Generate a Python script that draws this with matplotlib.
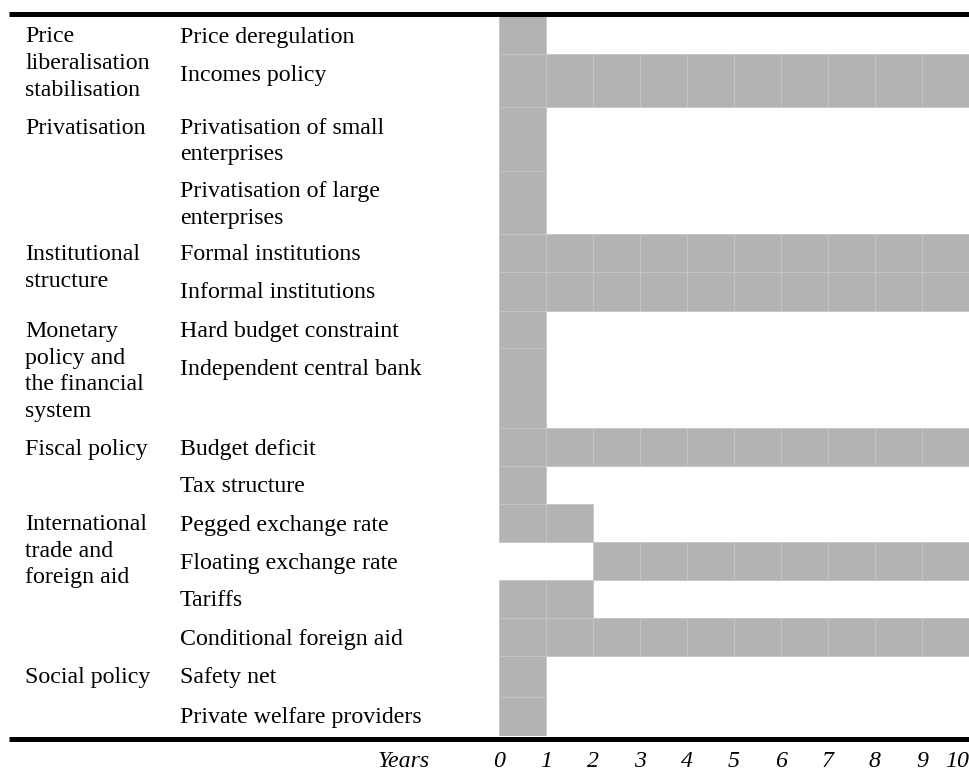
import matplotlib.pyplot as plt
from matplotlib import transforms
from matplotlib.lines import Line2D
import numpy as np

# policy rows, start and end year of each measure
policies = ["Price deregulation", "Incomes policy",
            "Privatisation of small\nenterprises", "Privatisation of large\nenterprises",
            "Formal institutions", "Informal institutions",
            "Hard budget constraint", "Independent central bank",
            "Budget deficit", "Tax structure",
            "Pegged exchange rate", "Floating exchange rate", "Tariffs",
            "Conditional foreign aid",
            "Safety net", "Private welfare providers"]
start_year = [0, 0, 0, 0, 0, 0, 0, 0, 0, 0, 0, 2, 0, 0, 0, 0]
end_year = [1, 10, 1, 1, 10, 10, 1, 1, 10, 1, 2, 10, 2, 10, 1, 1]

# policy areas and the row where each one starts
areas = ["Price\nliberalisation\nstabilisation", "Privatisation",
         "Institutional\nstructure", "Monetary\npolicy and\nthe financial\nsystem",
         "Fiscal policy", "International\ntrade and\nforeign aid", "Social policy"]
area_row = [0, 2, 4, 6, 8, 10, 14]

years = list(range(0, 11))

# row heights in pixels (layout only)
row_h = [38, 53, 64, 63, 38, 39, 37, 80, 38, 38, 38, 38, 38, 38, 41, 39]
row_top = np.concatenate([[0], np.cumsum(row_h)[:-1]])

W, H = 970, 771
fig = plt.figure(figsize=(W / 100, H / 100), dpi=100)
plt.rcParams['font.family'] = ['Liberation Serif', 'DejaVu Serif']
ax = fig.add_axes([499 / W, (H - 736) / H, 470 / W, 720 / H])

bar_col = '#b3b3b3'
for i in range(len(policies)):
    for yr in range(start_year[i], end_year[i]):
        ax.barh(row_top[i] + row_h[i] / 2, 1, left=yr, height=row_h[i],
                color=bar_col, edgecolor='#c6c6c6', linewidth=0.6)

ax.set_xlim(0, 10)
ax.set_ylim(sum(row_h), 0)
for s in ax.spines.values():
    s.set_visible(False)
ax.set_yticks([])
ax.set_xticks(years)
ax.set_xticklabels([str(y) for y in years], fontsize=17.2, style='italic')
ax.tick_params(axis='x', length=0, pad=10.5)
ax.get_xticklabels()[-1].set_ha('right')

# text columns, one line at a time
tr = transforms.blended_transform_factory(fig.transFigure, ax.transData)
fs = 17.2
pitch = 26.5


def put(x, r, txt):
    for k, line in enumerate(txt.split('\n')):
        ax.text(x / W, row_top[r] + 26.5 + k * pitch, line, transform=tr,
                fontsize=fs, va='baseline', ha='left')


for i, p in enumerate(policies):
    put(180, i, p)
for a, r in zip(areas, area_row):
    put(25, r, a)

fig.text(430 / W, (H - 767) / H, "Years", fontsize=fs, style='italic',
         ha='right', va='baseline')

# thick rules top and bottom
fig.add_artist(Line2D([9 / W, 1], [(H - 13.5) / H] * 2, color='black', lw=3.6,
                      solid_capstyle='butt', transform=fig.transFigure))
fig.add_artist(Line2D([9 / W, 1], [(H - 738.5) / H] * 2, color='black', lw=3.6,
                      solid_capstyle='butt', transform=fig.transFigure))

fig.savefig("out.png", dpi=100)
